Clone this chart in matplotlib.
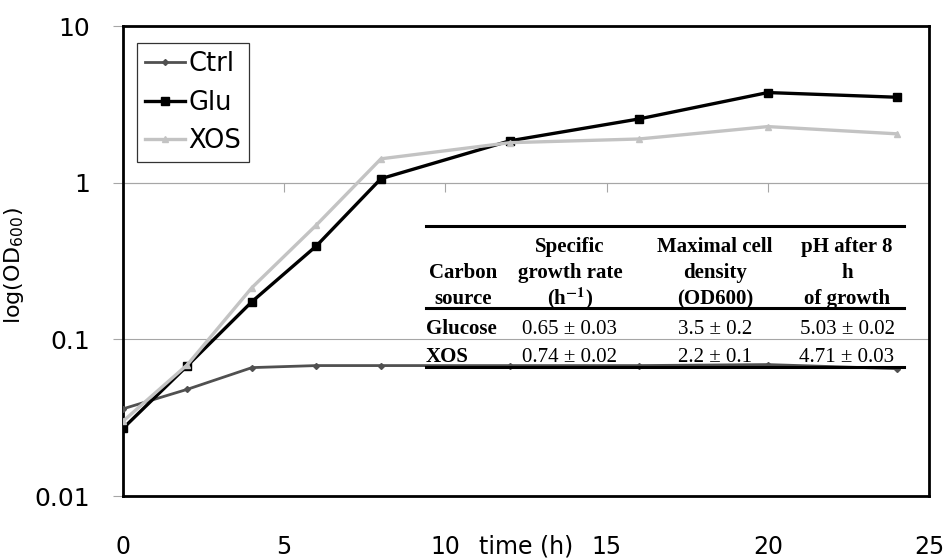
import matplotlib
matplotlib.use('Agg')
import matplotlib.pyplot as plt
from matplotlib.lines import Line2D

# 数据
time_h = [0, 2, 4, 6, 8, 12, 16, 20, 24]
ctrl = [0.036, 0.048, 0.066, 0.068, 0.068, 0.068, 0.068, 0.069, 0.065]
glu = [0.027, 0.068, 0.174, 0.395, 1.06, 1.85, 2.55, 3.76, 3.51]
xos = [0.030, 0.069, 0.214, 0.537, 1.42, 1.80, 1.90, 2.28, 2.05]
series_names = ['Ctrl', 'Glu', 'XOS']

x_ticks = [0, 5, 10, 15, 20, 25]
y_ticks = [0.01, 0.1, 1, 10]
y_tick_labels = ['0.01', '0.1', '1', '10']

# 表格内容
table_header = [['', 'Carbon', 'source'],
                ['Specific', 'growth rate', r'(h$^{\mathbf{-1}}$)'],
                ['Maximal cell', 'density', '(OD600)'],
                ['pH after 8', 'h', 'of growth']]
row_names = ['Glucose', 'XOS']
growth_rate = ['0.65 ± 0.03', '0.74 ± 0.02']
max_density = ['3.5 ± 0.2', '2.2 ± 0.1']
ph_after = ['5.03 ± 0.02', '4.71 ± 0.03']

plt.rcParams['font.family'] = ['DejaVu Sans']
plt.rcParams['mathtext.fontset'] = 'stix'

W, H = 947, 559
fig = plt.figure(figsize=(W / 100, H / 100), dpi=100)


def px(x, y):
    """像素坐标 -> figure 坐标"""
    return x / W, 1 - y / H


ax = fig.add_axes([123 / W, 1 - 496 / H, (929 - 123) / W, (496 - 26) / H])

grid_c = '#a6a6a6'
ax.plot(time_h, ctrl, color='#505050', lw=2, marker='D', ms=3, label=series_names[0], zorder=3)
ax.plot(time_h, glu, color='black', lw=2.4, marker='s', ms=5.5, label=series_names[1], zorder=4)
ax.plot(time_h, xos, color='#c3c3c3', lw=2.4, marker='^', ms=5, label=series_names[2], zorder=5)

ax.set_yscale('log')
ax.set_ylim(0.01, 10)
ax.set_xlim(0, 25)
ax.set_yticks(y_ticks)
ax.set_yticklabels(y_tick_labels)
ax.minorticks_off()
ax.set_xticks(x_ticks)
ax.yaxis.grid(True, color=grid_c, lw=0.8)
ax.tick_params(axis='y', direction='out', length=7, width=0.8, color=grid_c,
               labelsize=18, pad=17)
ax.tick_params(axis='x', length=0, labelsize=17, pad=28)
for s in ax.spines.values():
    s.set_linewidth(2)
    s.set_color('black')

# Excel 风格: 横轴在 y=1 处
sec = ax.secondary_xaxis(2 / 3)
sec.set_xticks(x_ticks)
sec.tick_params(direction='in', length=6.5, width=0.8, color=grid_c,
                labeltop=False, labelbottom=False)
for s in sec.spines.values():
    s.set_color(grid_c)
    s.set_linewidth(0.8)

ax.set_ylabel(r'log(OD$_{\mathregular{600}}$)', fontsize=16, labelpad=4)
ax.yaxis.set_label_coords(-0.12, 0.49)
ax.set_xlabel('time (h)', fontsize=17, va='center')
ax.xaxis.set_label_coords(0.5, -0.108)

leg = ax.legend(loc='upper left', bbox_to_anchor=px(137, 43), bbox_transform=fig.transFigure,
                fontsize=18.5, frameon=True, fancybox=False, borderaxespad=0,
                borderpad=0.3, handlelength=1.55, handletextpad=0.15, labelspacing=0.5)
leg.get_frame().set_edgecolor('black')
leg.get_frame().set_linewidth(0.9)

# 表格
serif = 'Liberation Serif'
col_x = [463, 570, 715, 847]
line_y = [252, 278, 304]
for ci, lines in enumerate(table_header):
    for li, t in enumerate(lines):
        if t:
            fig.text(*px(col_x[ci], line_y[li]), t, ha='center', va='baseline',
                     family=serif, weight='bold', fontsize=15, zorder=6)

row_y = [334, 362]
for ri, name in enumerate(row_names):
    fig.text(*px(426, row_y[ri]), name, ha='left', va='baseline',
             family=serif, weight='bold', fontsize=15, zorder=6)
    for ci, col in enumerate([growth_rate, max_density, ph_after]):
        fig.text(*px(col_x[ci + 1], row_y[ri]), col[ri], ha='center', va='baseline',
                 family=serif, fontsize=15, zorder=6)

for ry in [226, 308, 367]:
    x0, y0 = px(426, ry)
    x1, _ = px(904, ry)
    fig.add_artist(Line2D([x0, x1], [y0, y0], color='black', lw=2.2, zorder=6))

plt.savefig('out.png', dpi=100)
